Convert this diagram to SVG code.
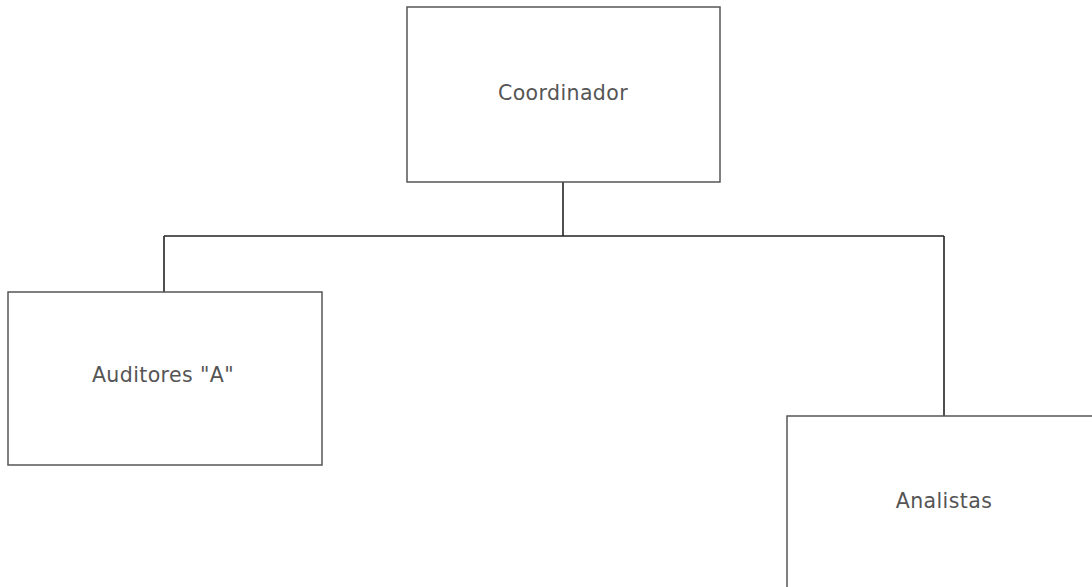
<svg xmlns="http://www.w3.org/2000/svg" width="1092" height="587" viewBox="0 0 1092 587">
<style>
.box{fill:#fff;stroke:#555;stroke-width:1.5}
.lbl{font-family:"DejaVu Sans",sans-serif;font-size:20.5px;letter-spacing:0.4px;fill:#555;text-anchor:middle}
.conn{fill:none;stroke:#222;stroke-width:1.6}
</style>
<rect width="1092" height="587" fill="#fff"/>
<g id="connectors">
<path class="conn" d="M563,182 V236"/>
<path class="conn" d="M164,236 H944"/>
<path class="conn" d="M164,236 V292"/>
<path class="conn" d="M944,236 V416"/>
</g>
<g id="coordinador">
<rect class="box" x="407" y="7" width="313" height="175"/>
<text class="lbl" x="563" y="100">Coordinador</text>
</g>
<g id="auditores">
<rect class="box" x="8" y="292" width="314" height="173"/>
<text class="lbl" x="163" y="382">Auditores "A"</text>
</g>
<g id="analistas">
<rect class="box" x="787" y="416" width="320" height="190"/>
<text class="lbl" x="944" y="508">Analistas</text>
</g>
</svg>
